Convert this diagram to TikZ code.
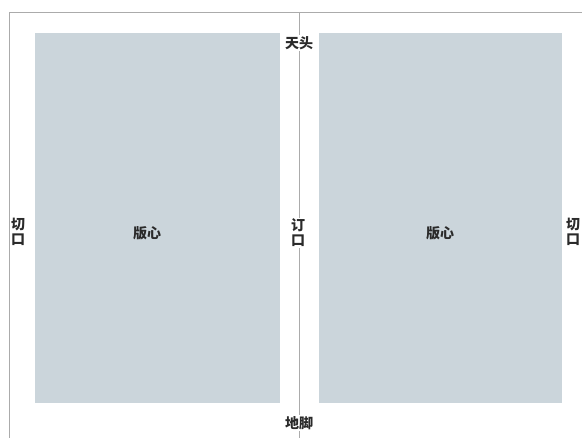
\documentclass[tikz,border=0pt]{standalone}
\usepackage{fontspec}
\usepackage{xcolor}
\newfontfamily\cjk{Noto Sans CJK SC}
\definecolor{pagegrey}{HTML}{CBD5DB}
\definecolor{linegrey}{HTML}{ABABAB}
\definecolor{inkgrey}{HTML}{2A2A2A}

\begin{document}
\begin{tikzpicture}[x=1pt,y=-1pt,
    text block/.style={rectangle, fill=pagegrey, minimum width=245pt, minimum height=370pt, inner sep=0pt},
    label text/.style={font=\cjk\bfseries\fontsize{14}{15}\selectfont, text=inkgrey, inner sep=1pt},
    margin text/.style={label text, fill=white, align=center}]

            \useasboundingbox (0,0) rectangle (582,438);

            % page frame and spine
            \draw[linegrey] (9,438) -- (9,12) -- (582,12);
            \draw[linegrey] (299,12) -- (299,438);

            \node[text block] (1) at (157.5,218) {};
            \node[text block, minimum width=243pt] (2) at (440.5,218) {};

            \node[label text] (3) at (147,233) {版心};
            \node[label text] (4) at (440,233) {版心};

            \node[margin text] (5) at (299,43) {天头};
            \node[margin text] (6) at (299,423) {地脚};
            \node[margin text] (7) at (298,233) {订\\口};
            \node[margin text] (8) at (18,232) {切\\口};
            \node[margin text] (9) at (573,232) {切\\口};
        \end{tikzpicture}
\end{document}
